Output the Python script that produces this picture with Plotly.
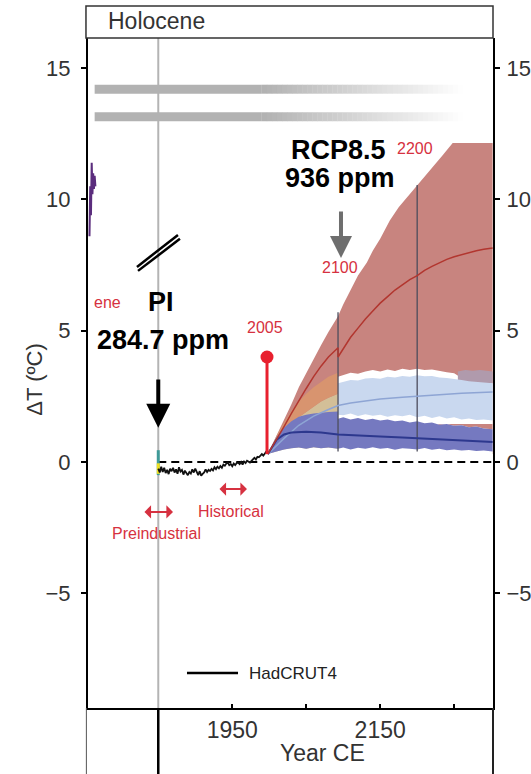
import plotly.graph_objects as go

# ---------------- data ----------------
had_years = list(range(1850, 1999, 2))
had_vals = [-0.25, -0.40, -0.18, -0.38, -0.22, -0.42, -0.30, -0.46, -0.26, -0.35,
            -0.22, -0.40, -0.28, -0.45, -0.20, -0.36, -0.30, -0.48, -0.33, -0.42,
            -0.50, -0.38, -0.44, -0.28, -0.40, -0.25, -0.42, -0.50, -0.35, -0.52,
            -0.45, -0.40, -0.28, -0.38, -0.30, -0.34, -0.26, -0.32, -0.20, -0.27,
            -0.18, -0.24, -0.15, -0.22, -0.10, -0.14, -0.06, -0.02, -0.12, -0.08,
            -0.16, -0.06, -0.12, -0.04, -0.02, -0.08, 0.00, -0.10, 0.02, -0.04,
            0.05, 0.00, -0.02, 0.04, 0.12, 0.16, 0.10, 0.20, 0.18, 0.26,
            0.30, 0.24, 0.33, 0.38, 0.48]

holo_years = [1757, 1758, 1759, 1760, 1761, 1762, 1763, 1764, 1765]
holo_vals = [8.6, 10.5, 9.4, 11.4, 10.2, 11.0, 10.4, 10.9, 10.5]

bar_levels = [14.2, 13.15]
bar_start, fade_start, fade_end = 1764, 1990, 2262

red_hi_years = [1998, 2010, 2020, 2030, 2040, 2050, 2060, 2070, 2080, 2093, 2100, 2110,
                2120, 2132, 2140, 2150, 2163, 2175, 2190, 2205, 2221, 2235, 2248, 2302]
red_hi = [0.3, 1.0, 1.6, 2.2, 2.85, 3.4, 3.95, 4.45, 4.95, 5.55, 6.0, 6.55,
          7.1, 7.6, 8.05, 8.5, 9.2, 9.7, 10.2, 10.7, 11.2, 11.7, 12.15, 12.15]
red_lo_years = [1998, 2302]
red_lo = [0.3, 0.3]

early_years = [1998, 2005, 2010, 2020, 2030, 2040, 2050, 2060, 2070, 2080, 2093]
late_years = [2093] + list(range(2100, 2300, 10)) + [2302]

dark_hi_early = [0.3, 0.7, 0.95, 1.3, 1.55, 1.72, 1.8, 1.85, 1.88, 1.9, 1.92]
dark_lo_early = [0.3, 0.35, 0.4, 0.48, 0.52, 0.55, 0.5, 0.56, 0.52, 0.55, 0.5]
dark_hi_late = [1.65, 1.7, 1.62, 1.68, 1.6, 1.65, 1.58, 1.62, 1.55, 1.58, 1.5,
                1.55, 1.48, 1.5, 1.42, 1.45, 1.38, 1.4, 1.32, 1.35, 1.28, 1.25]
dark_lo_late = [0.5, 0.55, 0.48, 0.54, 0.5, 0.56, 0.5, 0.53, 0.47, 0.52, 0.5,
                0.48, 0.53, 0.47, 0.5, 0.45, 0.48, 0.44, 0.46, 0.42, 0.44, 0.4]
white_lo_early = [0.3, 0.25, 0.22, 0.2, 0.18, 0.2, 0.16, 0.2, 0.15, 0.18, 0.15]
white_lo_late = [0.15, 0.2, 0.13, 0.18, 0.12, 0.17, 0.14, 0.2, 0.12, 0.16, 0.13,
                 0.19, 0.12, 0.17, 0.14, 0.18, 0.12, 0.16, 0.13, 0.18, 0.14, 0.15]

khaki_hi = [0.3, 0.55, 0.75, 1.1, 1.45, 1.7, 1.9, 2.1, 2.3, 2.45, 2.6]
orange_hi = [0.3, 0.7, 1.0, 1.5, 1.95, 2.3, 2.6, 2.85, 3.05, 3.25, 3.4]

white_hi_late = [3.25, 3.3, 3.4, 3.36, 3.45, 3.5, 3.45, 3.52, 3.47, 3.55, 3.5,
                 3.55, 3.5, 3.52, 3.46, 3.42, 3.38, 3.2, 3.1, 3.05, 3.05, 3.0]
white_lo_mid = [1.45] * 22
lblue_hi = [3.0, 3.05, 3.12, 3.1, 3.18, 3.2, 3.17, 3.25, 3.22, 3.28, 3.25,
            3.3, 3.27, 3.28, 3.22, 3.2, 3.15, 3.12, 3.08, 3.05, 3.02, 3.0]
lblue_lo = [1.8, 1.78, 1.85, 1.75, 1.82, 1.76, 1.8, 1.72, 1.78, 1.74, 1.8,
            1.7, 1.76, 1.68, 1.74, 1.66, 1.7, 1.62, 1.66, 1.6, 1.62, 1.58]

mauve_years = [2255, 2265, 2275, 2285, 2302]
mauve_hi = [3.45, 3.5, 3.48, 3.5, 3.45]
mauve_lo = [3.0, 3.0, 3.0, 3.0, 3.0]

red_line_years = [1998, 2010, 2020, 2030, 2040, 2050, 2060, 2070, 2080, 2093, 2093, 2100,
                  2110, 2120, 2130, 2140, 2150, 2160, 2170, 2180, 2190, 2200, 2210,
                  2220, 2230, 2240, 2250, 2260, 2270, 2280, 2290, 2302]
red_line = [0.3, 0.85, 1.35, 1.85, 2.35, 2.8, 3.25, 3.65, 4.0, 4.35, 4.0, 4.3,
            4.75, 5.1, 5.45, 5.75, 6.05, 6.3, 6.55, 6.75, 6.95, 7.1, 7.3,
            7.45, 7.6, 7.72, 7.82, 7.9, 7.98, 8.05, 8.1, 8.15]
lblue_line_years = [1998, 2020, 2040, 2060, 2080, 2093, 2110, 2130, 2150, 2180, 2200, 2230, 2260, 2302]
lblue_line = [0.3, 0.9, 1.4, 1.75, 2.0, 2.15, 2.25, 2.33, 2.4, 2.47, 2.5, 2.56, 2.62, 2.67]
dark_line_years = [1998, 2005, 2010, 2020, 2030, 2050, 2070, 2093, 2120, 2150, 2180, 2200, 2230, 2260, 2302]
dark_line = [0.3, 0.65, 0.85, 1.05, 1.12, 1.15, 1.12, 1.05, 1.0, 0.97, 0.93, 0.9, 0.86, 0.82, 0.76]

vline_years = [2093, 2200]
vline_lo = [0.4, 0.4]
vline_hi = [5.7, 10.55]

stem_year, stem_top, stem_base = 1997, 4.0, 0.3
pi_year = 1850

y_ticks = [-5, 0, 5, 10, 15]
x_ticks = [1950, 2050, 2150, 2250]
x_ticktext = ["1950", "", "2150", ""]

RED = "#d63140"
FONT = "Liberation Sans, Arial, sans-serif"

fig = go.Figure()


def band(xs_hi, hi, xs_lo, lo, color):
    fig.add_trace(go.Scatter(x=list(xs_hi) + list(xs_lo)[::-1], y=list(hi) + list(lo)[::-1],
                             fill="toself", fillcolor=color, mode="lines",
                             line=dict(width=0), hoverinfo="skip"))


# gray fading bars
n = 40
for lvl in bar_levels:
    fig.add_trace(go.Scatter(x=[bar_start, fade_start], y=[lvl, lvl], mode="lines",
                             line=dict(color="rgb(178,178,178)", width=9)))
    step = (fade_end - fade_start) / n
    for i in range(n):
        f = (i + 0.5) / n
        c = int(178 + (255 - 178) * f)
        fig.add_trace(go.Scatter(x=[fade_start + i * step, fade_start + (i + 1) * step + 0.5],
                                 y=[lvl, lvl], mode="lines",
                                 line=dict(color=f"rgb({c},{c},{c})", width=9)))

# holocene squiggle
fig.add_trace(go.Scatter(x=holo_years, y=holo_vals, mode="lines",
                         line=dict(color="#5b2d7d", width=2)))

# projection bands
band(red_hi_years, red_hi, red_lo_years, red_lo, "#c8847f")
band(early_years + late_years, dark_hi_early + dark_hi_late,
     early_years + late_years, white_lo_early + white_lo_late, "white")
band(early_years, khaki_hi, early_years, dark_lo_early, "#d3bf98")
band(early_years, orange_hi, early_years, khaki_hi, "#d8946f")
band(late_years, white_hi_late, late_years, white_lo_mid, "white")
band(mauve_years, mauve_hi, mauve_years, mauve_lo, "#b09aac")
band(late_years, lblue_hi, late_years, lblue_lo, "#c9d8ef")
band(early_years + late_years, dark_hi_early + dark_hi_late,
     early_years + late_years, dark_lo_early + dark_lo_late, "#7579c0")

for yr, lo, hi in zip(vline_years, vline_lo, vline_hi):
    fig.add_trace(go.Scatter(x=[yr, yr], y=[lo, hi], mode="lines",
                             line=dict(color="#4d4d5c", width=1.3)))

fig.add_trace(go.Scatter(x=lblue_line_years, y=lblue_line, mode="lines",
                         line=dict(color="#8ea5d4", width=1.5)))
fig.add_trace(go.Scatter(x=dark_line_years, y=dark_line, mode="lines",
                         line=dict(color="#2d388e", width=2)))
fig.add_trace(go.Scatter(x=red_line_years, y=red_line, mode="lines",
                         line=dict(color="#b2362f", width=1.5)))

# zero dashed line
fig.add_trace(go.Scatter(x=[pi_year, 2302.5], y=[0, 0], mode="lines",
                         line=dict(color="black", width=2, dash="8px,5px")))

# preindustrial marks
fig.add_trace(go.Scatter(x=[pi_year, pi_year], y=[0.45, -0.5], mode="lines",
                         line=dict(color="#3f9a98", width=3)))
fig.add_trace(go.Scatter(x=[pi_year, pi_year], y=[-0.05, -0.45], mode="lines",
                         line=dict(color="#f0e020", width=3)))

# HadCRUT4
fig.add_trace(go.Scatter(x=had_years, y=had_vals, mode="lines",
                         line=dict(color="#111111", width=1.8)))

# 2005 stem
fig.add_trace(go.Scatter(x=[stem_year, stem_year], y=[stem_base, stem_top], mode="lines",
                         line=dict(color="#e8202e", width=3)))
fig.add_trace(go.Scatter(x=[stem_year], y=[stem_top], mode="markers",
                         marker=dict(color="#e8202e", size=13)))

# dummy for right axis
fig.add_trace(go.Scatter(x=[2000], y=[0], yaxis="y2", mode="markers",
                         marker=dict(opacity=0), hoverinfo="skip"))

shapes = [
    dict(type="rect", xref="paper", yref="paper", x0=-0.005, x1=1.0, y0=1.0, y1=1.0478,
         line=dict(color="#333", width=1.5)),
    dict(type="line", xref="x", yref="paper", x0=pi_year, x1=pi_year, y0=0, y1=1,
         line=dict(color="#b4b4b4", width=2), layer="below"),
    dict(type="line", xref="x", yref="paper", x0=pi_year, x1=pi_year, y0=0, y1=-0.0985,
         line=dict(color="black", width=2.5)),
    dict(type="line", xref="paper", yref="paper", x0=-0.004, x1=-0.004, y0=0, y1=-0.0985,
         line=dict(color="#555", width=1)),
    dict(type="line", xref="paper", yref="paper", x0=1.0, x1=1.0, y0=0, y1=-0.0985,
         line=dict(color="#222", width=2)),
    dict(type="line", xref="x", yref="y", x0=1821.2, x1=1876.6, y0=7.43, y1=8.65,
         line=dict(color="black", width=2.5)),
    dict(type="line", xref="x", yref="y", x0=1822.6, x1=1879.3, y0=7.28, y1=8.50,
         line=dict(color="black", width=2.5)),
    dict(type="line", xref="paper", yref="paper", x0=0.2444, x1=0.3704, y0=0.0522, y1=0.0522,
         line=dict(color="black", width=2.5)),
]

ann = []


def txt(x, y, s, size, color="#222", bold=False, xref="x", yref="y", xanchor="center", **kw):
    ann.append(dict(x=x, y=y, xref=xref, yref=yref, text=f"<b>{s}</b>" if bold else s,
                    showarrow=False, xanchor=xanchor, yanchor="middle",
                    font=dict(size=size, color=color, family=FONT), **kw))


txt(0.0444, 1.0254, "Holocene", 23, "#333", xref="paper", yref="paper", xanchor="left")
txt(-0.131, 0.49, "ΔT (ºC)", 22, "#333", xref="paper", yref="paper", textangle=-90)
txt(0.578, -0.0672, "Year CE", 23, "#333", xref="paper", yref="paper")
txt(0.3926, 0.0522, "HadCRUT4", 17, "#222", xref="paper", yref="paper", xanchor="left")
txt(1782, 6.06, "ene", 16, RED)
txt(1854, 6.1, "PI", 27, "black", True)
txt(1856, 4.65, "284.7 ppm", 27, "black", True)
txt(1994, 5.14, "2005", 16, RED)
txt(2093, 11.89, "RCP8.5", 27, "black", True)
txt(2095.5, 10.82, "936 ppm", 27, "black", True)
txt(2197, 11.96, "2200", 16, RED)
txt(2095.5, 7.39, "2100", 16, RED)
txt(1948, -1.9, "Historical", 16, RED)
txt(1848, -2.74, "Preindustrial", 16, RED)

ann.append(dict(x=pi_year, y=1.3, ax=pi_year, ay=3.2, xref="x", yref="y", axref="x", ayref="y",
                text="", showarrow=True, arrowhead=2, arrowwidth=4, arrowsize=1.2, arrowcolor="black"))
ann.append(dict(x=2097, y=7.77, ax=2097, ay=9.6, xref="x", yref="y", axref="x", ayref="y",
                text="", showarrow=True, arrowhead=2, arrowwidth=4, arrowsize=1.1, arrowcolor="#6e6e6e"))
for (x0, x1, yy) in [(1829.3, 1869.9, -1.9), (1930.7, 1969.9, -1.03)]:
    ann.append(dict(x=x1, y=yy, ax=x0, ay=yy, xref="x", yref="y", axref="x", ayref="y",
                    text="", showarrow=True, arrowhead=1, arrowside="end+start",
                    arrowwidth=2, arrowsize=1.1, arrowcolor=RED))

yax = dict(range=[-9.37, 16.15], tickvals=y_ticks, ticks="outside", ticklen=5, tickwidth=2,
           tickcolor="black", showline=True, linecolor="black", linewidth=2, automargin=False,
           showgrid=False, zeroline=False, tickfont=dict(size=22, color="#333", family=FONT))

fig.update_layout(
    width=531, height=774, margin=dict(l=88, r=38, t=38, b=66),
    plot_bgcolor="white", paper_bgcolor="white", showlegend=False,
    font=dict(family=FONT),
    xaxis=dict(range=[1755, 2302.5], tickvals=x_ticks, ticktext=x_ticktext, ticks="inside",
               ticklen=4, tickwidth=2, tickcolor="black", showline=True, linecolor="black",
               linewidth=2, showgrid=False, zeroline=False, automargin=False,
               tickfont=dict(size=23, color="#333", family=FONT)),
    yaxis=dict(**yax, ticklabelstandoff=6),
    yaxis2=dict(**yax, overlaying="y", side="right", ticklabelstandoff=2),
    shapes=shapes, annotations=ann,
)

fig.write_html("out.html")
